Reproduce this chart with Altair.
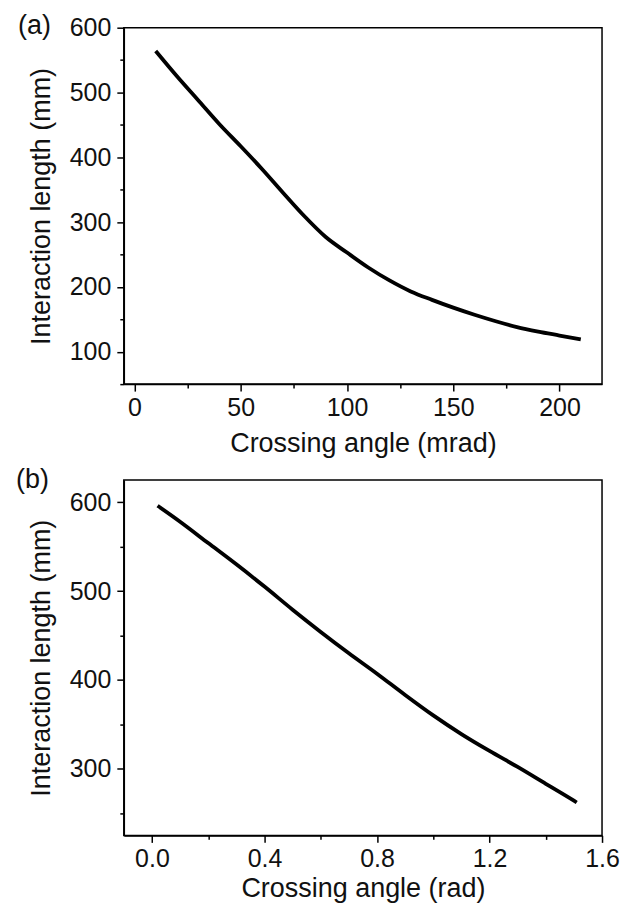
import altair as alt
import pandas as pd

# ---- data ----
a_angle_mrad = [10, 20, 30, 40, 50, 60, 70, 80, 90, 100, 110, 120, 130, 140,
                150, 160, 170, 180, 190, 200, 210]
a_length_mm = [564, 525, 488, 451, 417, 382, 345, 309, 277, 253, 230, 210, 193,
               180, 168, 157, 147, 138, 131, 125, 119]

b_angle_rad = [0.02, 0.1, 0.2, 0.3, 0.4, 0.5, 0.6, 0.7, 0.8, 0.9, 1.0, 1.1,
               1.2, 1.3, 1.4, 1.5, 1.51]
b_length_mm = [596, 578, 554, 530, 505, 479, 454, 430, 407, 383, 360, 339,
               320, 302, 283, 264, 262]

panel_labels = ["(a)", "(b)"]
x_titles = ["Crossing angle (mrad)", "Crossing angle (rad)"]
y_title = "Interaction length (mm)"

a_x_ticks = [0, 25, 50, 75, 100, 125, 150, 175, 200]
a_y_ticks = [50, 100, 150, 200, 250, 300, 350, 400, 450, 500, 550, 600]
b_x_ticks = [0.0, 0.2, 0.4, 0.6, 0.8, 1.0, 1.2, 1.4, 1.6]
b_y_ticks = [250, 300, 350, 400, 450, 500, 550, 600]

FONT = "Liberation Sans"
INK = "#111111"


def make_panel(xs, ys, xdom, ydom, xticks, yticks, xmajor, ymajor, xfmt,
               xtitle, label, lab_x, lab_y, height, xtitle_pad):
    df = pd.DataFrame({"angle": xs, "length": ys})
    x_axis = alt.Axis(
        values=xticks, title=xtitle, format=xfmt, grid=False,
        labelExpr=f"({xmajor}) ? datum.label : ''",
        tickSize={"condition": {"test": xmajor, "value": 7}, "value": 4},
        labelPadding=4, titlePadding=xtitle_pad, labelFlush=False,
        labelOverlap=False,
    )
    y_axis = alt.Axis(
        values=yticks, title=y_title, grid=False,
        labelExpr=f"({ymajor}) ? datum.label : ''",
        tickSize={"condition": {"test": ymajor, "value": 7}, "value": 4},
        labelPadding=6, titlePadding=14, labelFlush=False, labelOverlap=False,
    )
    line = alt.Chart(df).mark_line(
        color="black", strokeWidth=3.8, interpolate="monotone"
    ).encode(
        x=alt.X("angle:Q", scale=alt.Scale(domain=xdom, nice=False, zero=False),
                axis=x_axis),
        y=alt.Y("length:Q", scale=alt.Scale(domain=ydom, nice=False, zero=False),
                axis=y_axis),
    )
    txt = alt.Chart(pd.DataFrame({"t": [label]})).mark_text(
        font=FONT, fontSize=27, color=INK, align="left", baseline="middle"
    ).encode(text="t:N", x=alt.value(lab_x), y=alt.value(lab_y))
    return alt.layer(line, txt).properties(width=479, height=height)


panel_a = make_panel(
    a_angle_mrad, a_length_mm, [-5, 220], [50, 600], a_x_ticks, a_y_ticks,
    "datum.value % 50 === 0", "datum.value % 100 === 0", "d",
    x_titles[0], panel_labels[0], -106, -2, 357, 10)

panel_b = make_panel(
    b_angle_rad, b_length_mm, [-0.1, 1.6], [225, 625], b_x_ticks, b_y_ticks,
    "round(datum.value * 10) % 4 === 0", "datum.value % 100 === 0", ".1f",
    x_titles[1], panel_labels[1], -108, 0, 356, 4)

chart = alt.vconcat(panel_a, panel_b, spacing=8).properties(
    padding={"left": 7, "top": 2, "right": 0, "bottom": 0}
).configure_view(
    stroke="black", strokeWidth=1.5
).configure_axis(
    domainColor="black", domainWidth=1.5, tickColor="black", tickWidth=1.5,
    labelFont=FONT, labelFontSize=25, labelColor=INK,
    titleFont=FONT, titleFontSize=27, titleFontWeight="normal", titleColor=INK,
)

chart.save("out.html", embed_options={"renderer": "svg", "actions": False})
